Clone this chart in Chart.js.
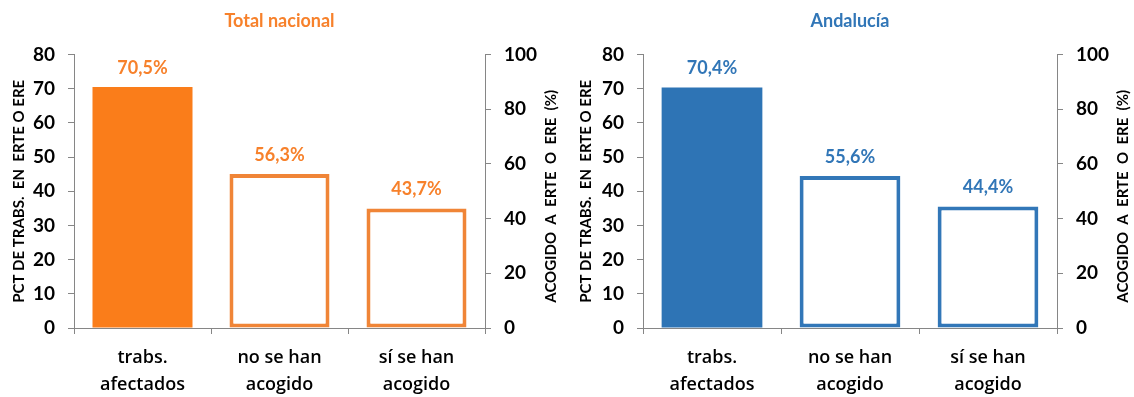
<!DOCTYPE html>
<html>
<head>
<meta charset="utf-8">
<script src="https://cdn.jsdelivr.net/npm/chart.js"></script>
<style>
    html, body { margin: 0; padding: 0; background: #fff; overflow: hidden; }
    .panel { position: absolute; top: 0; width: 567px; height: 397px; }
</style>
</head>
<body>
<div class="panel" style="left:0"><canvas id="chartNacional" width="567" height="397"></canvas></div>
<div class="panel" style="left:567px"><canvas id="chartAndalucia" width="567" height="397"></canvas></div>
<script>
var categories = [['trabs.', 'afectados'], ['no se han', 'acogido'], ['sí se han', 'acogido']];

// first bar goes on the left axis, the other two on the right one
var afectadosNacional = [70.5, null, null];
var acogidoNacional = [null, 56.3, 43.7];
var afectadosAndalucia = [70.4, null, null];
var acogidoAndalucia = [null, 55.6, 44.4];

var leftTicks = [0, 10, 20, 30, 40, 50, 60, 70, 80];
var rightTicks = [0, 20, 40, 60, 80, 100];

var leftTitle = 'PCT DE TRABS.  EN  ERTE O ERE';
var rightTitle = 'ACOGIDO  A  ERTE  O  ERE  (%)';

Chart.defaults.font.family = 'Lato';
Chart.defaults.color = '#000';

var axisGrey = '#868686';

// "70,5%" style labels above each bar
var barValueLabels = {
    id: 'barValueLabels',
    afterDatasetsDraw: function (chart, args, opts) {
        var ctx = chart.ctx;
        ctx.save();
        ctx.font = 'bold 18px Lato';
        ctx.fillStyle = opts.color;
        ctx.textAlign = 'center';
        ctx.textBaseline = 'middle';
        chart.data.datasets.forEach(function (ds, i) {
            chart.getDatasetMeta(i).data.forEach(function (bar, j) {
                var v = ds.data[j];
                if (v === null) return;
                ctx.fillText(v.toFixed(1).replace('.', ',') + '%', bar.x, bar.y - 19);
            });
        });
        ctx.restore();
    }
};

// right axis title, reading bottom to top like the left one
var rightAxisTitle = {
    id: 'rightAxisTitle',
    afterDraw: function (chart, args, opts) {
        var s = chart.scales.y1;
        var ctx = chart.ctx;
        ctx.save();
        ctx.translate(s.left + 66, (s.top + s.bottom) / 2 + 5);
        ctx.rotate(-Math.PI / 2);
        ctx.font = 'bold 15px Lato';
        ctx.fillStyle = '#000';
        ctx.textAlign = 'center';
        ctx.textBaseline = 'middle';
        ctx.fillText(opts.text, 0, 0);
        ctx.restore();
    }
};

function makeChart(id, title, afectados, acogido, colors, leftWidth, rightWidth) {
    var ctx = document.getElementById(id).getContext('2d');
    return new Chart(ctx, {
        type: 'bar',
        data: {
            labels: categories,
            datasets: [{
                data: afectados,
                yAxisID: 'y',
                backgroundColor: colors.fill,
                borderWidth: 0
            }, {
                data: acogido,
                yAxisID: 'y1',
                backgroundColor: '#ffffff',
                borderColor: colors.outline,
                borderWidth: 4,
                borderSkipped: false
            }]
        },
        options: {
            responsive: false,
            animation: false,
            grouped: false,
            categoryPercentage: 0.73,
            barPercentage: 1,
            layout: { padding: 0 },
            plugins: {
                legend: { display: false },
                tooltip: { enabled: false },
                title: {
                    display: true,
                    text: title,
                    color: colors.text,
                    fullSize: false,
                    font: { size: 18, weight: 'bold' },
                    padding: { top: 10, bottom: 23 }
                },
                barValueLabels: { color: colors.text },
                rightAxisTitle: { text: rightTitle }
            },
            scales: {
                x: {
                    grid: {
                        drawOnChartArea: false,
                        color: axisGrey,
                        tickLength: 6
                    },
                    border: { color: axisGrey },
                    ticks: {
                        font: { size: 18, family: 'Open Sans', weight: 600, lineHeight: 1.5 },
                        padding: 10,
                        maxRotation: 0
                    },
                    afterFit: function (s) { s.height = 69; }
                },
                y: {
                    position: 'left',
                    min: leftTicks[0],
                    max: leftTicks[leftTicks.length - 1],
                    grid: { drawOnChartArea: false, color: axisGrey, tickLength: 6 },
                    border: { color: axisGrey },
                    ticks: {
                        stepSize: leftTicks[1] - leftTicks[0],
                        font: { size: 19, weight: 'bold' },
                        padding: 13
                    },
                    title: {
                        display: true,
                        text: leftTitle,
                        font: { size: 15, weight: 'bold' },
                        padding: { top: 10 }
                    },
                    afterFit: function (s) { s.width = leftWidth; }
                },
                y1: {
                    position: 'right',
                    min: rightTicks[0],
                    max: rightTicks[rightTicks.length - 1],
                    grid: { drawOnChartArea: false, color: axisGrey, tickLength: 6 },
                    border: { color: axisGrey },
                    ticks: {
                        stepSize: rightTicks[1] - rightTicks[0],
                        font: { size: 19, weight: 'bold' },
                        padding: 13
                    },
                    afterFit: function (s) { s.width = rightWidth; }
                }
            }
        },
        plugins: [barValueLabels, rightAxisTitle]
    });
}

makeChart('chartNacional', 'Total nacional', afectadosNacional, acogidoNacional,
    { fill: '#FA7D1A', outline: '#F08537', text: '#F7812B' }, 74, 82);
makeChart('chartAndalucia', 'Andalucía', afectadosAndalucia, acogidoAndalucia,
    { fill: '#2E74B5', outline: '#3277B8', text: '#3176B7' }, 76, 77);
</script>
</body>
</html>
